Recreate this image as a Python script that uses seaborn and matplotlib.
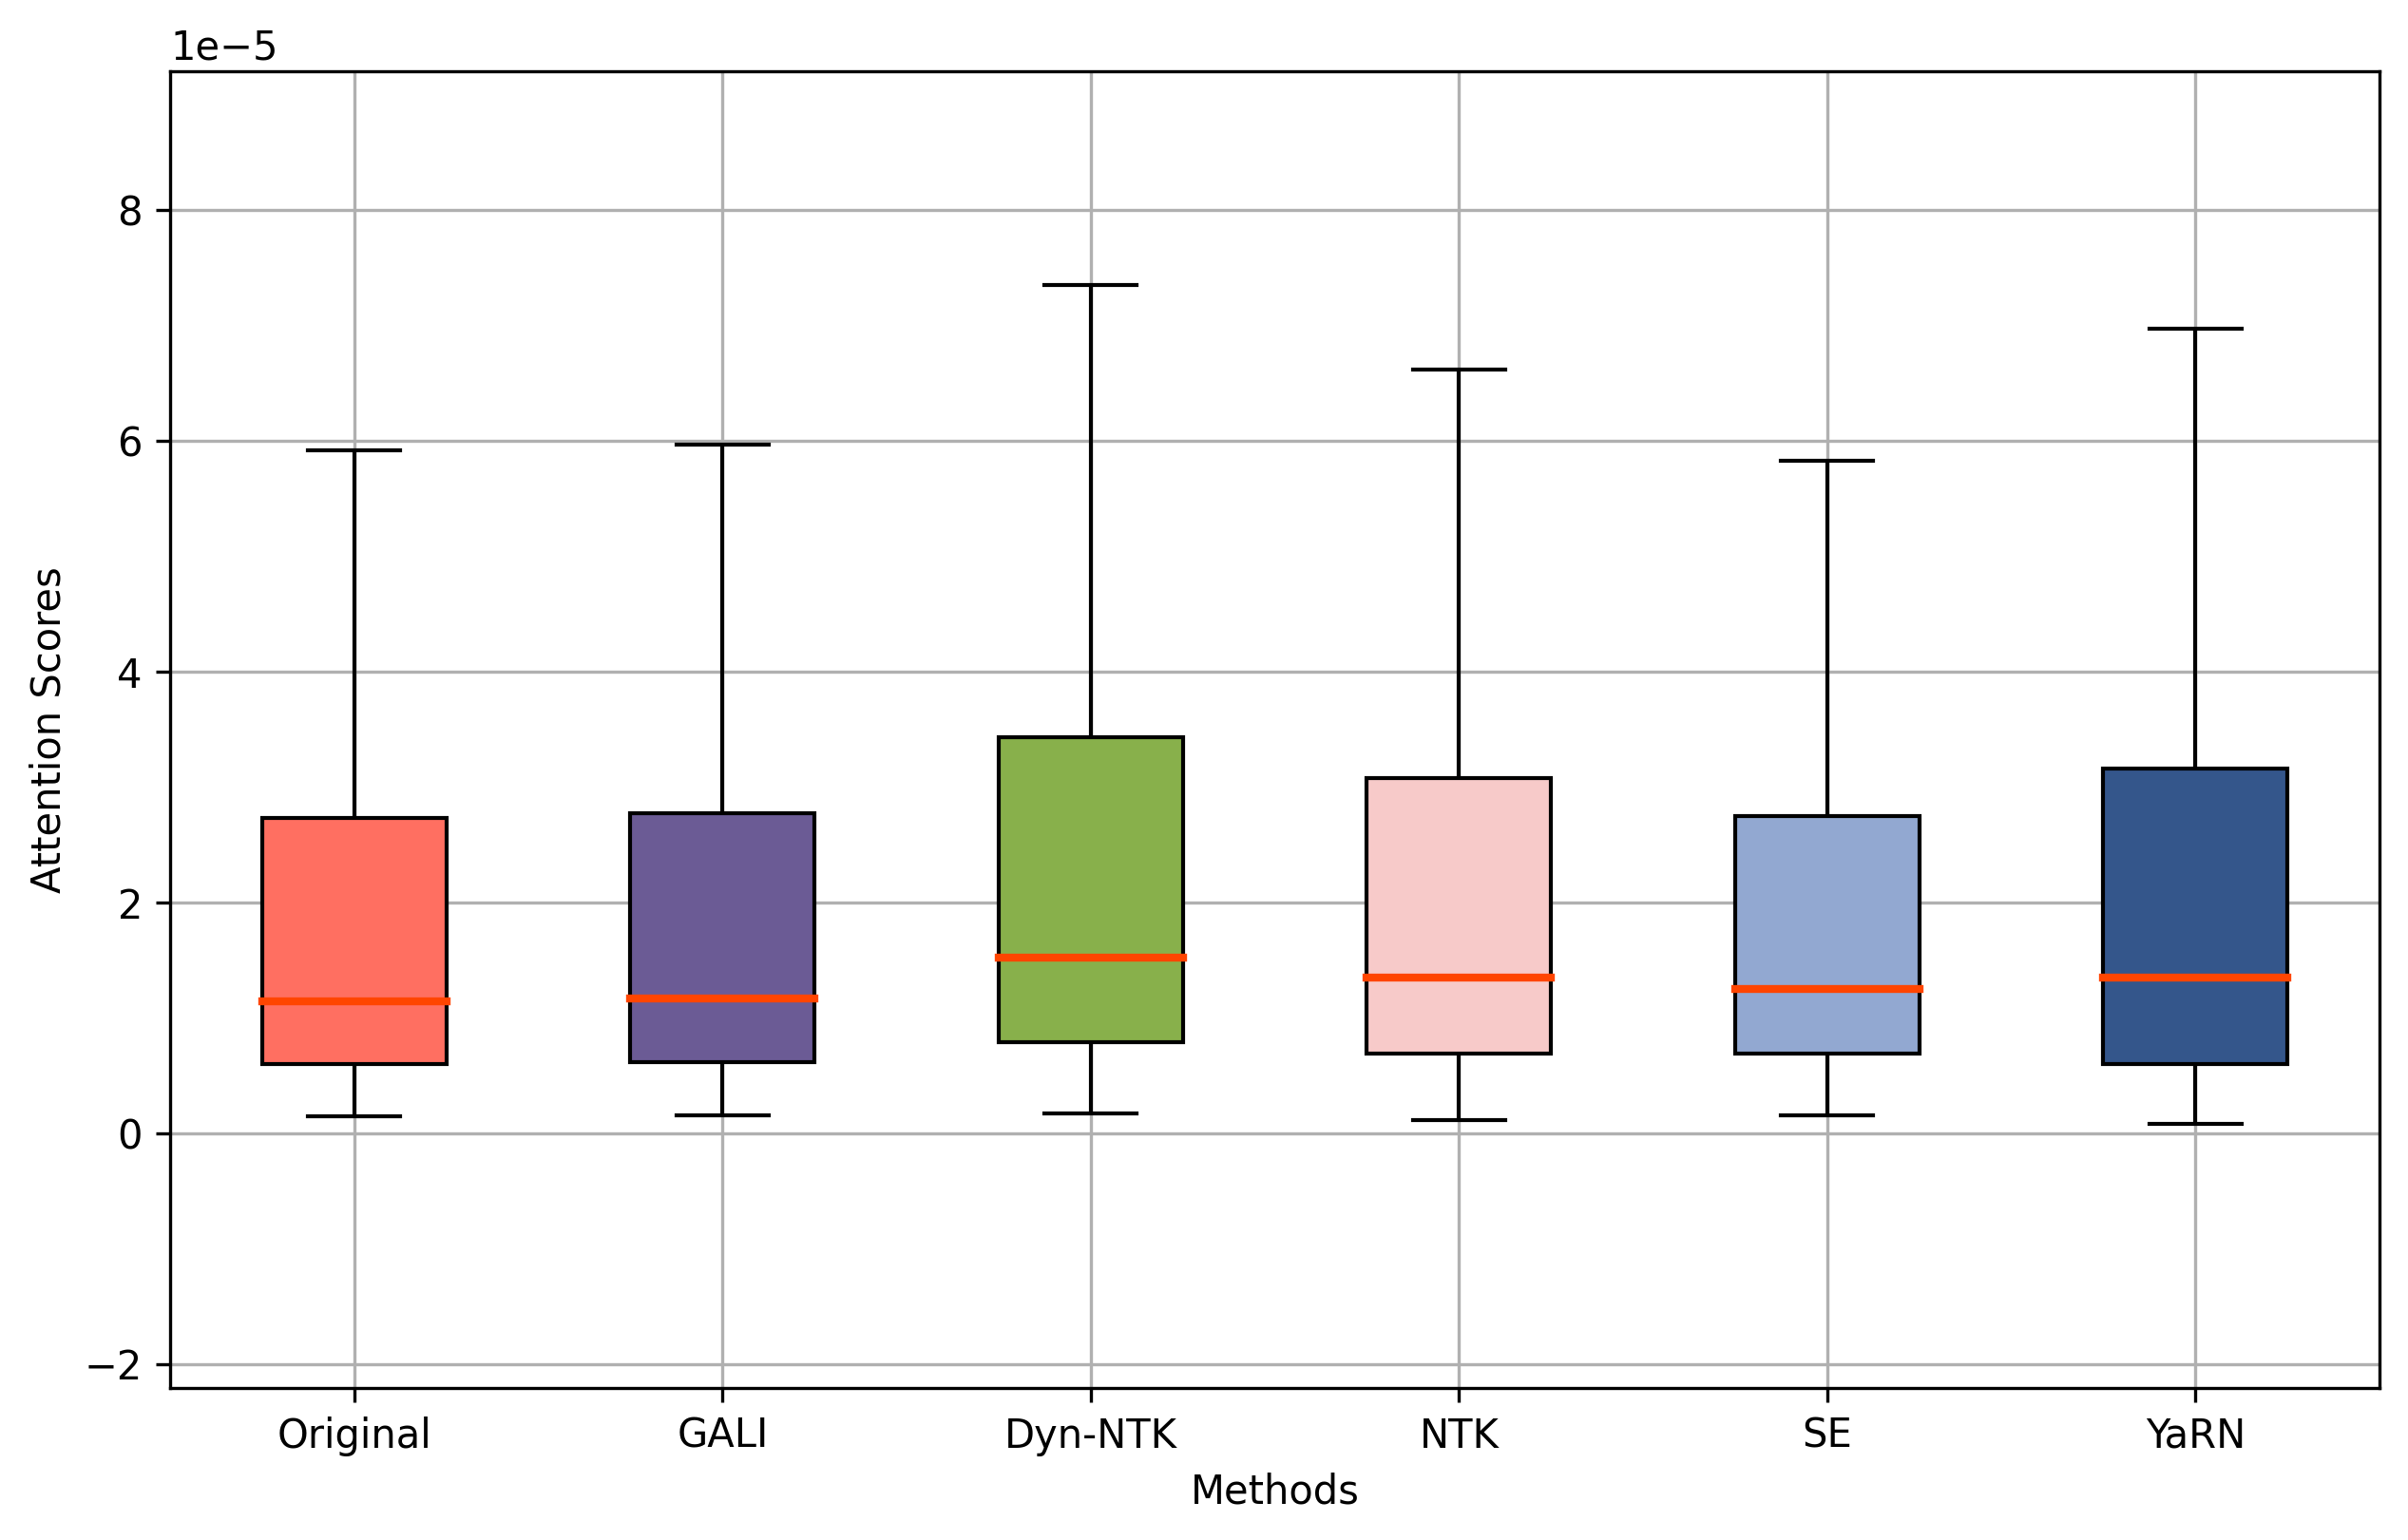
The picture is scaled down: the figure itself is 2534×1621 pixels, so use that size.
import matplotlib
matplotlib.use("Agg")
import matplotlib.pyplot as plt
import seaborn as sns
import pandas as pd

methods = ["Original", "GALI", "Dyn-NTK", "NTK", "SE", "YaRN"]
colors = ["#FF6F61", "#6B5B95", "#88B04B", "#F7CAC9", "#92A8D1", "#34568B"]

# five-number summaries (whisker low, Q1, median, Q3, whisker high)
whisker_low = [0.147e-5, 0.155e-5, 0.168e-5, 0.11e-5, 0.155e-5, 0.08e-5]
q1 = [0.60e-5, 0.617e-5, 0.79e-5, 0.69e-5, 0.69e-5, 0.60e-5]
median = [1.14e-5, 1.17e-5, 1.52e-5, 1.345e-5, 1.25e-5, 1.345e-5]
q3 = [2.73e-5, 2.77e-5, 3.43e-5, 3.08e-5, 2.745e-5, 3.16e-5]
whisker_high = [5.92e-5, 5.97e-5, 7.35e-5, 6.62e-5, 5.83e-5, 6.97e-5]

rows = []
for i, m in enumerate(methods):
    for v in (whisker_low[i], q1[i], median[i], q3[i], whisker_high[i]):
        rows.append({"Methods": m, "Attention Scores": v})
df = pd.DataFrame(rows)

fig, ax = plt.subplots(figsize=(10, 6))
sns.boxplot(
    data=df, x="Methods", y="Attention Scores", hue="Methods",
    order=methods, hue_order=methods, palette=colors, legend=False,
    width=0.5, whis=(0, 100), saturation=1, linecolor="black", linewidth=1,
    medianprops={"color": "#FF4500", "linewidth": 2,
                 "solid_capstyle": "projecting"},
    ax=ax,
)
ax.grid(True, color="#b0b0b0", linewidth=0.8)
ax.set_axisbelow(True)
ax.set_ylim(-2.21e-5, 9.20e-5)
ax.set_xlabel("Methods")
ax.set_ylabel("Attention Scores")

fig.savefig("out.png", dpi=300, bbox_inches="tight")
